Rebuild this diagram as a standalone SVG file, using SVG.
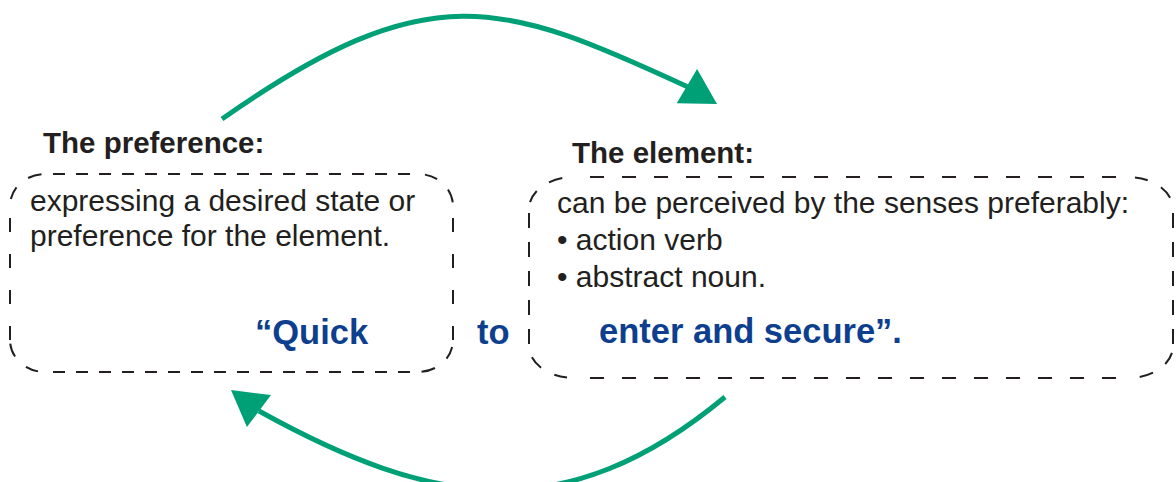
<svg xmlns="http://www.w3.org/2000/svg" xmlns:xlink="http://www.w3.org/1999/xlink" width="1176" height="482" viewBox="0 0 1176 482">
  <style>
    .title { font-family: "Liberation Sans", Arial, sans-serif; font-weight: bold; font-size: 29.5px; fill: #231f20; }
    .body { font-family: "Liberation Sans", Arial, sans-serif; font-size: 30px; fill: #231f20; }
    .quote { font-family: "Liberation Sans", Arial, sans-serif; font-weight: bold; font-size: 34.5px; fill: #0d3f8e; }
    .frame { fill: none; stroke: #231f20; stroke-width: 2; }
    .corner { stroke-dasharray: 0 7 13 15 14 30; }
    .h-left { stroke-dasharray: 12 11; stroke-dashoffset: 15; }
    .v-left { stroke-dasharray: 14 22; stroke-dashoffset: 24; }
    .h-right { stroke-dasharray: 14 18; stroke-dashoffset: 16; }
    .v-right { stroke-dasharray: 15 14; stroke-dashoffset: 25; }
    .link { fill: none; stroke: #00a077; stroke-width: 5; }
    .head { fill: #00a077; }
  </style>
  <defs>
    <!-- arrowhead pointing along +x, tip at the origin -->
    <polygon id="arrowhead" class="head" points="0,0 -35,-20 -35,20"/>
  </defs>

  <!-- left node: the preference -->
  <g id="node-preference">
    <g class="frame">
      <path class="corner" d="M10,206 A35,32 0 0 1 45,174"/>
      <path class="corner" d="M418,174 A35,32 0 0 1 453,206"/>
      <path class="corner" d="M453,340 A35,32 0 0 1 418,372"/>
      <path class="corner" d="M45,372 A35,32 0 0 1 10,340"/>
      <path class="h-left" d="M45,174 H418"/>
      <path class="h-left" d="M45,372 H418"/>
      <path class="v-left" d="M10,206 V340"/>
      <path class="v-left" d="M453,206 V340"/>
    </g>
    <text class="title" x="43" y="153">The preference:</text>
    <text class="body" x="30" y="211">expressing a desired state or</text>
    <text class="body" x="30" y="246">preference for the element.</text>
    <text class="quote" x="255" y="344">“Quick</text>
  </g>

  <!-- joining word between the two nodes -->
  <g id="label-to">
    <text class="quote" x="477" y="344">to</text>
  </g>

  <!-- right node: the element -->
  <g id="node-element">
    <g class="frame">
      <path class="corner" d="M529,209 A45,32 0 0 1 574,177"/>
      <path class="corner" d="M1128,177 A45,32 0 0 1 1173,209"/>
      <path class="corner" d="M1173,346 A45,32 0 0 1 1128,378"/>
      <path class="corner" d="M574,378 A45,32 0 0 1 529,346"/>
      <path class="h-right" d="M574,177 H1128"/>
      <path class="h-right" d="M574,378 H1128"/>
      <path class="v-right" d="M529,209 V346"/>
      <path class="v-right" d="M1173,209 V346"/>
    </g>
    <text class="title" x="572" y="163">The element:</text>
    <text class="body" x="557" y="213">can be perceived by the senses preferably:</text>
    <text class="body" x="557" y="250">• action verb</text>
    <text class="body" x="557" y="287">• abstract noun.</text>
    <text class="quote" x="599" y="343">enter and secure”.</text>
  </g>

  <!-- curved connectors -->
  <g id="connectors">
    <path class="link" d="M222,119 C429,-26 501,0.5 688,87"/>
    <use xlink:href="#arrowhead" transform="translate(717,104) rotate(30.7)"/>
    <path class="link" d="M725,397 C565,530 432,507 259,411"/>
    <use xlink:href="#arrowhead" transform="translate(231,390) rotate(217)"/>
  </g>
</svg>
